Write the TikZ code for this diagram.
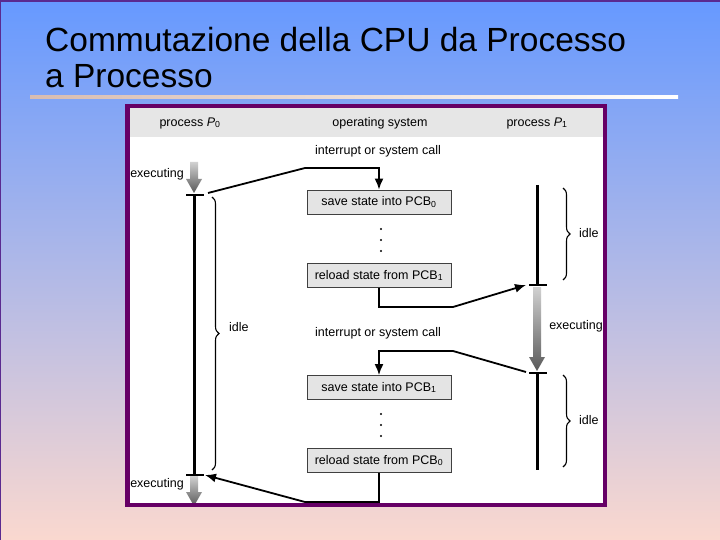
\documentclass[tikz,border=0pt]{standalone}
\usepackage{fontspec}
\setmainfont{Liberation Sans}
\usetikzlibrary{decorations.pathreplacing,arrows.meta}
\definecolor{bgtop}{HTML}{6699FF}
\definecolor{bgbot}{HTML}{FAD8CF}
\definecolor{slideedge}{HTML}{5A2A90}
\definecolor{panelpurple}{HTML}{660066}
\definecolor{headgray}{HTML}{E6E6E6}
\definecolor{boxgray}{HTML}{E4E4E4}
\definecolor{rulebeige}{HTML}{D8BCB0}
\begin{document}
\begin{tikzpicture}[x=1pt,y=-1pt,
  titletext/.style={anchor=base west,inner sep=0pt,font=\fontsize{33.5}{40}\selectfont},
  lbl/.style={inner sep=0pt,font=\fontsize{12.5}{15}\selectfont},
  osbox/.style={draw=black!75,line width=0.8pt,fill=boxgray,minimum width=144pt,minimum height=24pt,inner sep=0pt,font=\fontsize{12.5}{15}\selectfont},
  conn/.style={line width=1.8pt,line join=miter},
  tip/.style={-{Latex[length=11pt,width=9pt]}},
  timeline/.style={line width=3pt},
  tick/.style={line width=1.1pt},
  execarrow/.style={top color=black!18,bottom color=black!65},
  idlebrace/.style={decorate,decoration={brace,amplitude=7pt},line width=1.1pt},
  dot/.style={fill=black}
]
% background
\useasboundingbox (0,0) rectangle (720,540);
\shade[top color=bgtop,bottom color=bgbot] (0,0) rectangle (720,540);
\draw[slideedge,line width=2pt] (0,540) -- (0,1) -- (720,1);
% title
\node[titletext] (t1) at (45,52) {Commutazione della CPU da Processo};
\node[titletext] (t2) at (45,88) {a Processo};
\shade[left color=rulebeige,right color=white] (30,95.5) rectangle (678,98.5);
% panel
\fill[white] (127,106) rectangle (605,505);
\fill[headgray] (129,108) rectangle (603,137);
\node[lbl] (h0) at (190,123) {process {\itshape P}\textsubscript{0}};
\node[lbl] (hos) at (380,123) {operating system};
\node[lbl] (h1) at (537,123) {process {\itshape P}\textsubscript{1}};
% OS column
\node[lbl] (int1) at (378,151) {interrupt or system call};
\node[osbox] (save0) at (379,202) {save state into PCB\textsubscript{0}};
\node[osbox] (reload1) at (379,275.5) {reload state from PCB\textsubscript{1}};
\node[lbl] (int2) at (378,333) {interrupt or system call};
\node[osbox] (save1) at (379,387.5) {save state into PCB\textsubscript{1}};
\node[osbox] (reload0) at (379,460.5) {reload state from PCB\textsubscript{0}};
\foreach \yy in {229,240,251,414,425,436} \fill[dot] (381,\yy) circle (1.1pt);
% process P0 timeline
\shade[execarrow] (190,162) -- (198,162) -- (198,179) -- (202,179) -- (194,193) -- (186,179) -- (190,179) -- cycle;
\shade[execarrow] (190,476) -- (198,476) -- (198,492) -- (202,492) -- (194,506) -- (186,492) -- (190,492) -- cycle;
\draw[timeline] (194,195) -- (194,475);
\draw[tick] (186,195) -- (204,195);
\draw[tick] (186,475) -- (204,475);
\node[lbl,anchor=east] (ex0a) at (184,174) {executing};
\node[lbl,anchor=east] (ex0b) at (184,484) {executing};
\draw[idlebrace] (212,197) -- (212,470);
\node[lbl,anchor=west] (idle0) at (229,327) {idle};
\coordinate (p0out) at (208,193);
\coordinate (p0in) at (205,475);
% process P1 timeline
\shade[execarrow] (533,287) -- (541,287) -- (541,357) -- (545,357) -- (537,371) -- (529,357) -- (533,357) -- cycle;
\draw[timeline] (537,185) -- (537,285);
\draw[timeline] (537,373) -- (537,470);
\draw[tick] (529,285) -- (547,285);
\draw[tick] (529,373) -- (547,373);
\node[lbl] (ex1) at (576,326) {executing};
\draw[idlebrace] (563,188) -- (563,280);
\node[lbl,anchor=west] (idle1) at (579,233) {idle};
\draw[idlebrace] (563,375) -- (563,467);
\node[lbl,anchor=west] (idle2) at (579,420) {idle};
\coordinate (p1in) at (526,285);
\coordinate (p1out) at (526,372);
% connectors
\draw[conn,tip] (p0out) -- (305,168) -| (save0.north);
\draw[conn,tip] (reload1.south) |- (453,307) -- (p1in);
\draw[conn,tip] (p1out) -- (453,351) -| (save1.north);
\draw[conn,tip] (reload0.south) |- (305,502) -- (p0in);
% panel border
\draw[panelpurple,line width=4.5pt] (127.25,106.25) rectangle (604.75,504.75);
\end{tikzpicture}
\end{document}
